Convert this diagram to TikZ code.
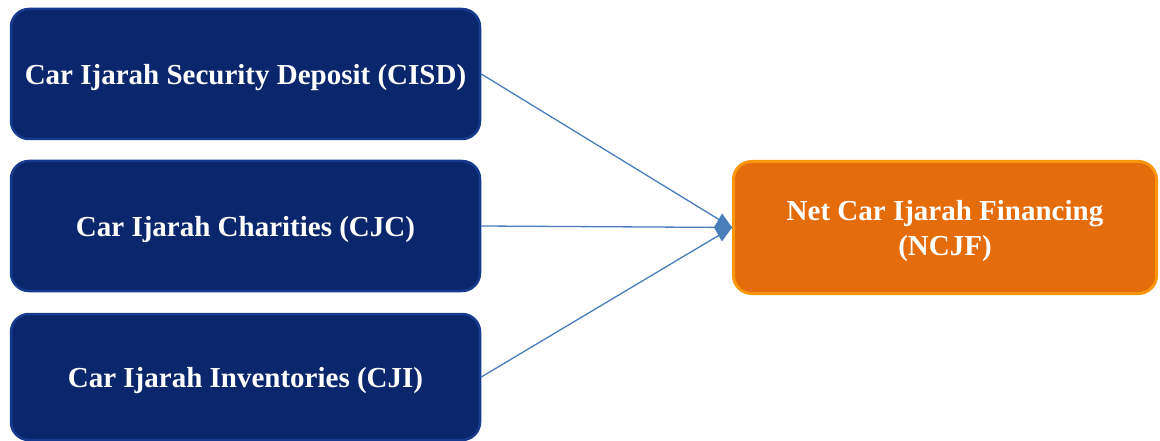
\documentclass[tikz,border=0pt]{standalone}
\usepackage{fontspec}
\setmainfont{Liberation Serif}
\usetikzlibrary{arrows.meta}
\definecolor{navyfill}{HTML}{0A266C}
\definecolor{navyedge}{HTML}{153A8E}
\definecolor{orangefill}{HTML}{E46C0A}
\definecolor{orangeedge}{HTML}{FA960C}
\definecolor{linkblue}{HTML}{4A7EBB}

\begin{document}
\begin{tikzpicture}[x=1pt, y=-1pt,
  every node/.style={font=\fontsize{29}{35}\selectfont\bfseries, text=white},
  srcbox/.style={rounded corners=18pt, minimum width=469pt, minimum height=130pt,
                 inner sep=4pt, align=center, draw=navyedge, line width=2.5pt,
                 fill=navyfill, text depth=0pt},
  netbox/.style={rounded corners=18pt, minimum width=423pt, minimum height=132pt,
                 inner sep=4pt, align=center, draw=orangeedge, line width=3pt,
                 fill=orangefill, text depth=0pt},
  link/.style={draw=linkblue, line width=1.3pt}]
  \useasboundingbox (0,0) rectangle (1160,441);
  % Input variables (left column)
  \node[srcbox] (cisd) at (245.5, 74)  {Car Ijarah Security Deposit (CISD)};
  \node[srcbox] (cjc)  at (245.5, 226) {Car Ijarah Charities (CJC)};
  \node[srcbox, minimum height=126pt] (cji) at (245.5, 377) {Car Ijarah Inventories (CJI)};
  % Outcome (right)
  \node[netbox] (ncjf) at (945, 227.5) {Net Car Ijarah Financing\\(NCJF)};
  % Links into the outcome
  \draw[link] (cisd.east) -- (ncjf.west);
  \draw[link] (cji.east)  -- (ncjf.west);
  \draw[link, -{Kite[length=18pt, width=28pt, inset=8pt]}] (cjc.east) -- (ncjf.west);
\end{tikzpicture}
\end{document}
